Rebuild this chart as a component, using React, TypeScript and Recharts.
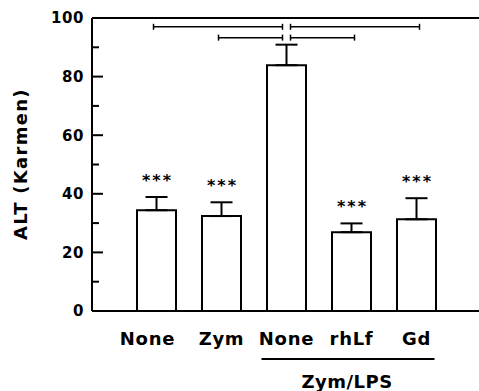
import React from 'react';
import { BarChart, Bar, XAxis, YAxis, ErrorBar, ReferenceLine, LabelList } from 'recharts';

const groupKeys = ['ctrl', 'zym', 'zymLps', 'zymLpsLf', 'zymLpsGd'];
const groupLabels = ['None', 'Zym', 'None', 'rhLf', 'Gd'];
const altMean = [34.4, 32.4, 83.9, 26.9, 31.3];
const altSem = [4.5, 4.7, 7.0, 3.0, 7.2];
const sigMarks = ['***', '***', '', '***', '***'];
const yTicks = [0, 10, 20, 30, 40, 50, 60, 70, 80, 90, 100];
const brackets = [
  { from: 'ctrl', to: 'zymLps', y: 97 },
  { from: 'zymLps', to: 'zymLpsGd', y: 97 },
  { from: 'zym', to: 'zymLps', y: 93.3 },
  { from: 'zymLps', to: 'zymLpsLf', y: 93.3 },
];
const subGroup = { label: 'Zym/LPS', from: 'zymLps', to: 'zymLpsGd' };

const FONT = '"DejaVu Sans", Arial, sans-serif';

const data = groupKeys.map((k, i) => ({
  key: k,
  alt: altMean[i],
  semRange: [0, altSem[i]],
  sig: sigMarks[i],
}));

const YTick = (props: any) => {
  const { x, y, payload } = props;
  const v = payload.value;
  const major = v % 20 === 0;
  return (
    <g>
      <line x1={x + 9} x2={x + 9 + (major ? 11 : 7)} y1={y} y2={y} stroke="#000" strokeWidth={2} />
      {major && (
        <text x={x + 1} y={y} dy="0.36em" textAnchor="end" fontFamily={FONT} fontWeight="bold" fontSize={15} letterSpacing={0.6} fill="#000">
          {v}
        </text>
      )}
    </g>
  );
};

const XTick = (props: any) => {
  const { x, y, payload, index } = props;
  return (
    <text
      x={x}
      y={y}
      dx={index === 0 ? -9 : 0}
      dy="0.71em"
      textAnchor="middle"
      fontFamily={FONT}
      fontWeight="bold"
      fontSize={18}
      letterSpacing={0.7}
      fill="#000"
    >
      {groupLabels[groupKeys.indexOf(payload.value)]}
    </text>
  );
};

const StarLabel = (props: any) => {
  const vb = props.viewBox || props;
  const { x, y, width, height } = vb;
  const i = props.index;
  if (!sigMarks[i]) return null;
  const pxPerUnit = height / altMean[i];
  const errTop = y - altSem[i] * pxPerUnit;
  return (
    <text
      x={x + width / 2 + 1}
      y={errTop - 11}
      textAnchor="middle"
      fontFamily={FONT}
      fontWeight="bold"
      fontSize={16}
      letterSpacing={2}
      fill="#000"
    >
      {sigMarks[i]}
    </text>
  );
};

const bracketShape = (centerOnRight: boolean) => (props: any) => {
  const { x1, y1, x2 } = props;
  const a = centerOnRight ? x1 - 3 : x1 + 4;
  const b = centerOnRight ? x2 - 4 : x2 + 3;
  return (
    <g stroke="#000" strokeWidth={1.5}>
      <line x1={a} x2={b} y1={y1} y2={y1} />
      <line x1={a} x2={a} y1={y1 - 3} y2={y1 + 3} />
      <line x1={b} x2={b} y1={y1 - 3} y2={y1 + 3} />
    </g>
  );
};

const subGroupShape = (props: any) => {
  const { x1, y1, x2 } = props;
  const a = x1 - 25;
  const b = x2 + 18;
  return (
    <g>
      <line x1={a} x2={b} y1={y1 + 48} y2={y1 + 48} stroke="#000" strokeWidth={2} />
      <text
        x={(a + b) / 2 - 1}
        y={y1 + 77}
        textAnchor="middle"
        fontFamily={FONT}
        fontWeight="bold"
        fontSize={18}
        letterSpacing={0.5}
        fill="#000"
      >
        {subGroup.label}
      </text>
    </g>
  );
};

const YLabel = () => {
  const cx = 27;
  const cy = 164;
  return (
    <text
      x={cx}
      y={cy}
      transform={`rotate(-90, ${cx}, ${cy})`}
      textAnchor="middle"
      fontFamily={FONT}
      fontWeight="bold"
      fontSize={18}
      letterSpacing={1.3}
      fill="#000"
    >
      ALT (Karmen)
    </text>
  );
};

export default function App() {
  return (
    <div style={{ position: 'absolute', left: 0, top: 0, background: '#fff' }}>
      <BarChart width={479} height={391} data={data} margin={{ top: 18, right: 0, left: 0, bottom: 0 }}>
        <XAxis
          dataKey="key"
          type="category"
          interval={0}
          height={80}
          padding={{ left: 32, right: 30 }}
          tickLine={false}
          tickSize={0}
          tickMargin={21}
          tick={<XTick />}
          axisLine={{ stroke: '#000', strokeWidth: 2 }}
        />
        <YAxis
          width={92}
          domain={[0, 100]}
          ticks={yTicks}
          interval={0}
          tickLine={false}
          tickSize={0}
          tickMargin={9}
          tick={<YTick />}
          axisLine={{ stroke: '#000', strokeWidth: 2 }}
          label={<YLabel />}
        />
        <ReferenceLine y={100} stroke="#000" strokeWidth={2} />
        <Bar dataKey="alt" fill="#fff" stroke="#000" strokeWidth={2} barSize={39} isAnimationActive={false}>
          <ErrorBar dataKey="semRange" direction="y" width={11} stroke="#000" strokeWidth={2} />
          <LabelList dataKey="sig" content={<StarLabel />} />
        </Bar>
        {brackets.map((br, i) => (
          <ReferenceLine
            key={i}
            segment={[{ x: br.from, y: br.y }, { x: br.to, y: br.y }]}
            shape={bracketShape(br.to === 'zymLps')}
          />
        ))}
        <ReferenceLine
          segment={[{ x: subGroup.from, y: 0 }, { x: subGroup.to, y: 0 }]}
          shape={subGroupShape}
        />
      </BarChart>
    </div>
  );
}
